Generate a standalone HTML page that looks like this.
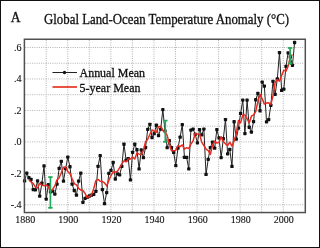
<!DOCTYPE html>
<html><head><meta charset="utf-8"><style>
html,body{margin:0;padding:0;background:#fff;}
svg{display:block;} .wrap{will-change:transform;width:320px;height:248px;}
text{font-family:"Liberation Serif",serif;fill:#111;stroke:#111;stroke-width:0.3px;} .ax text{stroke-width:0.12px;}
</style></head><body><div class="wrap">
<svg width="320" height="248" viewBox="0 0 320 248">
<rect x="0" y="0" width="320" height="248" fill="#fff"/>
<g stroke="#b2b2b2" stroke-width="1" stroke-dasharray="1 1.25" fill="none"><line x1="25.3" y1="204.82" x2="304.2" y2="204.82"/><line x1="25.3" y1="189.09" x2="304.2" y2="189.09"/><line x1="25.3" y1="173.36" x2="304.2" y2="173.36"/><line x1="25.3" y1="157.63" x2="304.2" y2="157.63"/><line x1="25.3" y1="141.90" x2="304.2" y2="141.90"/><line x1="25.3" y1="126.17" x2="304.2" y2="126.17"/><line x1="25.3" y1="110.44" x2="304.2" y2="110.44"/><line x1="25.3" y1="94.71" x2="304.2" y2="94.71"/><line x1="25.3" y1="78.98" x2="304.2" y2="78.98"/><line x1="25.3" y1="63.25" x2="304.2" y2="63.25"/><line x1="25.3" y1="47.52" x2="304.2" y2="47.52"/><line x1="46.20" y1="40" x2="46.20" y2="212"/><line x1="67.75" y1="40" x2="67.75" y2="212"/><line x1="89.30" y1="40" x2="89.30" y2="212"/><line x1="110.85" y1="40" x2="110.85" y2="212"/><line x1="132.40" y1="40" x2="132.40" y2="212"/><line x1="153.95" y1="40" x2="153.95" y2="212"/><line x1="175.50" y1="40" x2="175.50" y2="212"/><line x1="197.05" y1="40" x2="197.05" y2="212"/><line x1="218.60" y1="40" x2="218.60" y2="212"/><line x1="240.15" y1="40" x2="240.15" y2="212"/><line x1="261.70" y1="40" x2="261.70" y2="212"/><line x1="283.25" y1="40" x2="283.25" y2="212"/></g>
<g class="ax" font-size="11">['<text x="14.01" y="50.82" textLength="7.59" lengthAdjust="spacingAndGlyphs">.6</text>', '<text x="14.01" y="82.28" textLength="7.59" lengthAdjust="spacingAndGlyphs">.4</text>', '<text x="14.01" y="113.74" textLength="7.59" lengthAdjust="spacingAndGlyphs">.2</text>', '<text x="14.01" y="145.20" textLength="7.59" lengthAdjust="spacingAndGlyphs">.0</text>', '<text x="10.64" y="176.66" textLength="10.96" lengthAdjust="spacingAndGlyphs">-.2</text>', '<text x="10.64" y="208.12" textLength="10.96" lengthAdjust="spacingAndGlyphs">-.4</text>']</g>
<g class="ax" font-size="11.4">['<text x="15.25" y="223.1" textLength="20" lengthAdjust="spacingAndGlyphs">1880</text>', '<text x="58.35" y="223.1" textLength="20" lengthAdjust="spacingAndGlyphs">1900</text>', '<text x="101.45" y="223.1" textLength="20" lengthAdjust="spacingAndGlyphs">1920</text>', '<text x="144.55" y="223.1" textLength="20" lengthAdjust="spacingAndGlyphs">1940</text>', '<text x="187.65" y="223.1" textLength="20" lengthAdjust="spacingAndGlyphs">1960</text>', '<text x="230.75" y="223.1" textLength="20" lengthAdjust="spacingAndGlyphs">1980</text>', '<text x="273.85" y="223.1" textLength="20" lengthAdjust="spacingAndGlyphs">2000</text>']</g>
<text x="10.8" y="21.9" font-size="13.6">A</text>
<text x="44" y="23.9" font-size="13.8" textLength="245" lengthAdjust="spacingAndGlyphs">Global Land-Ocean Temperature Anomaly (°C)</text>
<path d="M24.60,180.91 L26.76,173.05 L28.92,177.76 L31.08,179.34 L33.24,189.56 L35.40,189.88 L37.56,180.91 L39.72,196.17 L41.88,183.27 L44.04,165.97 L46.20,199.16 L48.36,184.69 L50.52,191.76 L52.68,191.13 L54.84,194.12 L57.00,184.21 L59.16,168.33 L61.32,161.41 L63.48,181.07 L65.64,168.64 L67.80,157.16 L69.96,166.75 L72.12,184.21 L74.28,190.51 L76.44,195.22 L78.60,181.07 L80.76,173.20 L82.92,202.30 L85.08,198.37 L87.24,197.27 L89.40,196.01 L91.56,195.22 L93.72,194.44 L95.88,191.29 L98.04,166.28 L100.20,155.59 L102.36,189.56 L104.52,203.72 L106.68,192.55 L108.84,173.36 L111.00,170.37 L113.16,162.51 L115.32,179.02 L117.48,173.83 L119.64,174.78 L121.80,166.44 L123.96,144.26 L126.12,160.15 L128.28,158.57 L130.44,179.97 L132.60,152.28 L134.76,144.26 L136.92,149.77 L139.08,168.96 L141.24,149.92 L143.40,157.63 L145.56,147.56 L147.72,129.32 L149.88,124.28 L152.04,137.50 L154.20,133.72 L156.36,125.23 L158.52,135.61 L160.68,129.16 L162.84,109.65 L165.00,131.05 L167.16,147.72 L169.32,140.64 L171.48,147.56 L173.64,152.44 L175.80,165.65 L177.96,148.03 L180.12,137.18 L182.28,124.60 L184.44,157.32 L186.60,157.47 L188.76,168.80 L190.92,130.10 L193.08,129.16 L195.24,134.35 L197.40,142.84 L199.56,129.63 L201.72,134.82 L203.88,129.16 L206.04,174.46 L208.20,159.36 L210.36,147.56 L212.52,142.21 L214.68,148.19 L216.84,129.63 L219.00,137.81 L221.16,157.63 L223.32,138.75 L225.48,119.56 L227.64,153.85 L229.80,149.45 L231.96,166.44 L234.12,121.77 L236.28,139.07 L238.44,128.06 L240.60,113.43 L242.76,100.06 L244.92,133.56 L247.08,100.06 L249.24,127.27 L251.40,132.15 L253.56,121.61 L255.72,99.74 L257.88,93.45 L260.04,110.75 L262.20,82.13 L264.36,86.06 L266.52,121.92 L268.68,119.56 L270.84,105.25 L273.00,81.34 L275.16,94.40 L277.32,78.98 L279.48,52.55 L281.64,90.46 L283.80,89.20 L285.96,66.40 L288.12,52.87 L290.28,56.96 L292.44,65.29 L294.60,42.49" stroke="#222" stroke-width="1" fill="none"/>
<g fill="#111"><rect x="22.95" y="179.26" width="3.3" height="3.3" rx="0.7"/><rect x="25.11" y="171.40" width="3.3" height="3.3" rx="0.7"/><rect x="27.27" y="176.11" width="3.3" height="3.3" rx="0.7"/><rect x="29.43" y="177.69" width="3.3" height="3.3" rx="0.7"/><rect x="31.59" y="187.91" width="3.3" height="3.3" rx="0.7"/><rect x="33.75" y="188.23" width="3.3" height="3.3" rx="0.7"/><rect x="35.91" y="179.26" width="3.3" height="3.3" rx="0.7"/><rect x="38.07" y="194.52" width="3.3" height="3.3" rx="0.7"/><rect x="40.23" y="181.62" width="3.3" height="3.3" rx="0.7"/><rect x="42.39" y="164.32" width="3.3" height="3.3" rx="0.7"/><rect x="44.55" y="197.51" width="3.3" height="3.3" rx="0.7"/><rect x="46.71" y="183.04" width="3.3" height="3.3" rx="0.7"/><rect x="48.87" y="190.11" width="3.3" height="3.3" rx="0.7"/><rect x="51.03" y="189.48" width="3.3" height="3.3" rx="0.7"/><rect x="53.19" y="192.47" width="3.3" height="3.3" rx="0.7"/><rect x="55.35" y="182.56" width="3.3" height="3.3" rx="0.7"/><rect x="57.51" y="166.68" width="3.3" height="3.3" rx="0.7"/><rect x="59.67" y="159.76" width="3.3" height="3.3" rx="0.7"/><rect x="61.83" y="179.42" width="3.3" height="3.3" rx="0.7"/><rect x="63.99" y="166.99" width="3.3" height="3.3" rx="0.7"/><rect x="66.15" y="155.51" width="3.3" height="3.3" rx="0.7"/><rect x="68.31" y="165.10" width="3.3" height="3.3" rx="0.7"/><rect x="70.47" y="182.56" width="3.3" height="3.3" rx="0.7"/><rect x="72.63" y="188.86" width="3.3" height="3.3" rx="0.7"/><rect x="74.79" y="193.57" width="3.3" height="3.3" rx="0.7"/><rect x="76.95" y="179.42" width="3.3" height="3.3" rx="0.7"/><rect x="79.11" y="171.55" width="3.3" height="3.3" rx="0.7"/><rect x="81.27" y="200.65" width="3.3" height="3.3" rx="0.7"/><rect x="83.43" y="196.72" width="3.3" height="3.3" rx="0.7"/><rect x="85.59" y="195.62" width="3.3" height="3.3" rx="0.7"/><rect x="87.75" y="194.36" width="3.3" height="3.3" rx="0.7"/><rect x="89.91" y="193.57" width="3.3" height="3.3" rx="0.7"/><rect x="92.07" y="192.79" width="3.3" height="3.3" rx="0.7"/><rect x="94.23" y="189.64" width="3.3" height="3.3" rx="0.7"/><rect x="96.39" y="164.63" width="3.3" height="3.3" rx="0.7"/><rect x="98.55" y="153.94" width="3.3" height="3.3" rx="0.7"/><rect x="100.71" y="187.91" width="3.3" height="3.3" rx="0.7"/><rect x="102.87" y="202.07" width="3.3" height="3.3" rx="0.7"/><rect x="105.03" y="190.90" width="3.3" height="3.3" rx="0.7"/><rect x="107.19" y="171.71" width="3.3" height="3.3" rx="0.7"/><rect x="109.35" y="168.72" width="3.3" height="3.3" rx="0.7"/><rect x="111.51" y="160.86" width="3.3" height="3.3" rx="0.7"/><rect x="113.67" y="177.37" width="3.3" height="3.3" rx="0.7"/><rect x="115.83" y="172.18" width="3.3" height="3.3" rx="0.7"/><rect x="117.99" y="173.13" width="3.3" height="3.3" rx="0.7"/><rect x="120.15" y="164.79" width="3.3" height="3.3" rx="0.7"/><rect x="122.31" y="142.61" width="3.3" height="3.3" rx="0.7"/><rect x="124.47" y="158.50" width="3.3" height="3.3" rx="0.7"/><rect x="126.63" y="156.92" width="3.3" height="3.3" rx="0.7"/><rect x="128.79" y="178.32" width="3.3" height="3.3" rx="0.7"/><rect x="130.95" y="150.63" width="3.3" height="3.3" rx="0.7"/><rect x="133.11" y="142.61" width="3.3" height="3.3" rx="0.7"/><rect x="135.27" y="148.12" width="3.3" height="3.3" rx="0.7"/><rect x="137.43" y="167.31" width="3.3" height="3.3" rx="0.7"/><rect x="139.59" y="148.27" width="3.3" height="3.3" rx="0.7"/><rect x="141.75" y="155.98" width="3.3" height="3.3" rx="0.7"/><rect x="143.91" y="145.91" width="3.3" height="3.3" rx="0.7"/><rect x="146.07" y="127.67" width="3.3" height="3.3" rx="0.7"/><rect x="148.23" y="122.63" width="3.3" height="3.3" rx="0.7"/><rect x="150.39" y="135.85" width="3.3" height="3.3" rx="0.7"/><rect x="152.55" y="132.07" width="3.3" height="3.3" rx="0.7"/><rect x="154.71" y="123.58" width="3.3" height="3.3" rx="0.7"/><rect x="156.87" y="133.96" width="3.3" height="3.3" rx="0.7"/><rect x="159.03" y="127.51" width="3.3" height="3.3" rx="0.7"/><rect x="161.19" y="108.00" width="3.3" height="3.3" rx="0.7"/><rect x="163.35" y="129.40" width="3.3" height="3.3" rx="0.7"/><rect x="165.51" y="146.07" width="3.3" height="3.3" rx="0.7"/><rect x="167.67" y="138.99" width="3.3" height="3.3" rx="0.7"/><rect x="169.83" y="145.91" width="3.3" height="3.3" rx="0.7"/><rect x="171.99" y="150.79" width="3.3" height="3.3" rx="0.7"/><rect x="174.15" y="164.00" width="3.3" height="3.3" rx="0.7"/><rect x="176.31" y="146.38" width="3.3" height="3.3" rx="0.7"/><rect x="178.47" y="135.53" width="3.3" height="3.3" rx="0.7"/><rect x="180.63" y="122.95" width="3.3" height="3.3" rx="0.7"/><rect x="182.79" y="155.67" width="3.3" height="3.3" rx="0.7"/><rect x="184.95" y="155.82" width="3.3" height="3.3" rx="0.7"/><rect x="187.11" y="167.15" width="3.3" height="3.3" rx="0.7"/><rect x="189.27" y="128.45" width="3.3" height="3.3" rx="0.7"/><rect x="191.43" y="127.51" width="3.3" height="3.3" rx="0.7"/><rect x="193.59" y="132.70" width="3.3" height="3.3" rx="0.7"/><rect x="195.75" y="141.19" width="3.3" height="3.3" rx="0.7"/><rect x="197.91" y="127.98" width="3.3" height="3.3" rx="0.7"/><rect x="200.07" y="133.17" width="3.3" height="3.3" rx="0.7"/><rect x="202.23" y="127.51" width="3.3" height="3.3" rx="0.7"/><rect x="204.39" y="172.81" width="3.3" height="3.3" rx="0.7"/><rect x="206.55" y="157.71" width="3.3" height="3.3" rx="0.7"/><rect x="208.71" y="145.91" width="3.3" height="3.3" rx="0.7"/><rect x="210.87" y="140.56" width="3.3" height="3.3" rx="0.7"/><rect x="213.03" y="146.54" width="3.3" height="3.3" rx="0.7"/><rect x="215.19" y="127.98" width="3.3" height="3.3" rx="0.7"/><rect x="217.35" y="136.16" width="3.3" height="3.3" rx="0.7"/><rect x="219.51" y="155.98" width="3.3" height="3.3" rx="0.7"/><rect x="221.67" y="137.10" width="3.3" height="3.3" rx="0.7"/><rect x="223.83" y="117.91" width="3.3" height="3.3" rx="0.7"/><rect x="225.99" y="152.20" width="3.3" height="3.3" rx="0.7"/><rect x="228.15" y="147.80" width="3.3" height="3.3" rx="0.7"/><rect x="230.31" y="164.79" width="3.3" height="3.3" rx="0.7"/><rect x="232.47" y="120.12" width="3.3" height="3.3" rx="0.7"/><rect x="234.63" y="137.42" width="3.3" height="3.3" rx="0.7"/><rect x="236.79" y="126.41" width="3.3" height="3.3" rx="0.7"/><rect x="238.95" y="111.78" width="3.3" height="3.3" rx="0.7"/><rect x="241.11" y="98.41" width="3.3" height="3.3" rx="0.7"/><rect x="243.27" y="131.91" width="3.3" height="3.3" rx="0.7"/><rect x="245.43" y="98.41" width="3.3" height="3.3" rx="0.7"/><rect x="247.59" y="125.62" width="3.3" height="3.3" rx="0.7"/><rect x="249.75" y="130.50" width="3.3" height="3.3" rx="0.7"/><rect x="251.91" y="119.96" width="3.3" height="3.3" rx="0.7"/><rect x="254.07" y="98.09" width="3.3" height="3.3" rx="0.7"/><rect x="256.23" y="91.80" width="3.3" height="3.3" rx="0.7"/><rect x="258.39" y="109.10" width="3.3" height="3.3" rx="0.7"/><rect x="260.55" y="80.48" width="3.3" height="3.3" rx="0.7"/><rect x="262.71" y="84.41" width="3.3" height="3.3" rx="0.7"/><rect x="264.87" y="120.27" width="3.3" height="3.3" rx="0.7"/><rect x="267.03" y="117.91" width="3.3" height="3.3" rx="0.7"/><rect x="269.19" y="103.60" width="3.3" height="3.3" rx="0.7"/><rect x="271.35" y="79.69" width="3.3" height="3.3" rx="0.7"/><rect x="273.51" y="92.75" width="3.3" height="3.3" rx="0.7"/><rect x="275.67" y="77.33" width="3.3" height="3.3" rx="0.7"/><rect x="277.83" y="50.90" width="3.3" height="3.3" rx="0.7"/><rect x="279.99" y="88.81" width="3.3" height="3.3" rx="0.7"/><rect x="282.15" y="87.55" width="3.3" height="3.3" rx="0.7"/><rect x="284.31" y="64.75" width="3.3" height="3.3" rx="0.7"/><rect x="286.47" y="51.22" width="3.3" height="3.3" rx="0.7"/><rect x="288.63" y="55.31" width="3.3" height="3.3" rx="0.7"/><rect x="290.79" y="63.64" width="3.3" height="3.3" rx="0.7"/><rect x="292.95" y="40.84" width="3.3" height="3.3" rx="0.7"/></g>
<path d="M28.92,180.12 L31.08,181.92 L33.24,183.49 L35.40,187.17 L37.56,187.96 L39.72,183.24 L41.88,185.09 L44.04,185.85 L46.20,184.97 L48.36,186.54 L50.52,192.17 L52.68,189.18 L54.84,185.91 L57.00,179.84 L59.16,177.83 L61.32,172.73 L63.48,167.32 L65.64,167.01 L67.80,171.57 L69.96,173.45 L72.12,178.77 L74.28,183.55 L76.44,184.84 L78.60,188.46 L80.76,190.03 L82.92,190.44 L85.08,193.43 L87.24,197.84 L89.40,196.26 L91.56,194.85 L93.72,188.65 L95.88,180.56 L98.04,179.43 L100.20,181.29 L102.36,181.54 L104.52,182.96 L106.68,185.91 L108.84,180.50 L111.00,175.56 L113.16,171.82 L115.32,172.10 L117.48,171.32 L119.64,167.67 L121.80,163.89 L123.96,160.84 L126.12,161.88 L128.28,159.05 L130.44,159.05 L132.60,156.97 L134.76,159.05 L136.92,153.04 L139.08,154.11 L141.24,154.77 L143.40,150.68 L145.56,141.74 L147.72,139.26 L149.88,134.48 L152.04,130.01 L154.20,131.27 L156.36,132.24 L158.52,126.67 L160.68,126.14 L162.84,130.64 L165.00,131.64 L167.16,135.32 L169.32,143.88 L171.48,150.80 L173.64,150.87 L175.80,150.17 L177.96,145.58 L180.12,146.56 L182.28,144.92 L184.44,149.07 L186.60,147.66 L188.76,148.57 L190.92,143.98 L193.08,141.05 L195.24,133.22 L197.40,134.16 L199.56,134.16 L201.72,142.18 L203.88,145.49 L206.04,149.07 L208.20,150.55 L210.36,154.36 L212.52,145.39 L214.68,141.08 L216.84,143.10 L219.00,142.40 L221.16,136.68 L223.32,141.52 L225.48,143.85 L227.64,145.61 L229.80,142.21 L231.96,146.12 L234.12,140.96 L236.28,133.75 L238.44,120.48 L240.60,122.84 L242.76,115.03 L244.92,114.88 L247.08,118.62 L249.24,122.93 L251.40,116.17 L253.56,114.84 L255.72,111.54 L257.88,101.54 L260.04,94.43 L262.20,98.86 L264.36,104.09 L266.52,102.98 L268.68,102.83 L270.84,104.49 L273.00,95.91 L275.16,82.50 L277.32,79.55 L279.48,81.12 L281.64,75.52 L283.80,70.30 L285.96,71.18 L288.12,66.14 L290.28,56.80 L292.44,54.40" stroke="#e82a20" stroke-width="1.5" fill="none" stroke-linejoin="round"/>
<g stroke="#22a85a" stroke-width="1.7" fill="none"><line x1="50.40" y1="176.50" x2="50.40" y2="208.40"/><line x1="48.15" y1="177.10" x2="52.65" y2="177.10"/><line x1="48.15" y1="207.80" x2="52.65" y2="207.80"/><line x1="165.30" y1="120.00" x2="165.30" y2="142.40"/><line x1="163.05" y1="120.60" x2="167.55" y2="120.60"/><line x1="163.05" y1="141.80" x2="167.55" y2="141.80"/><line x1="290.10" y1="47.40" x2="290.10" y2="64.20"/><line x1="287.85" y1="48.00" x2="292.35" y2="48.00"/><line x1="287.85" y1="63.60" x2="292.35" y2="63.60"/></g>
<line x1="52.5" y1="72.5" x2="77" y2="72.5" stroke="#222" stroke-width="1"/>
<circle cx="64.5" cy="72.5" r="1.7" fill="#111"/>
<line x1="52.5" y1="87" x2="77" y2="87" stroke="#e8402f" stroke-width="1.8"/>
<text x="79.5" y="76.5" font-size="12.7" textLength="65.5" lengthAdjust="spacingAndGlyphs">Annual Mean</text>
<text x="79.5" y="91.5" font-size="12.7" textLength="61" lengthAdjust="spacingAndGlyphs">5-year Mean</text>
<rect x="24.4" y="39.25" width="280.9" height="173.3" fill="none" stroke="#505050" stroke-width="1.5"/>
<rect x="0.5" y="0.5" width="319" height="247" fill="none" stroke="#111" stroke-width="1"/>
</svg></div>
</body></html>
